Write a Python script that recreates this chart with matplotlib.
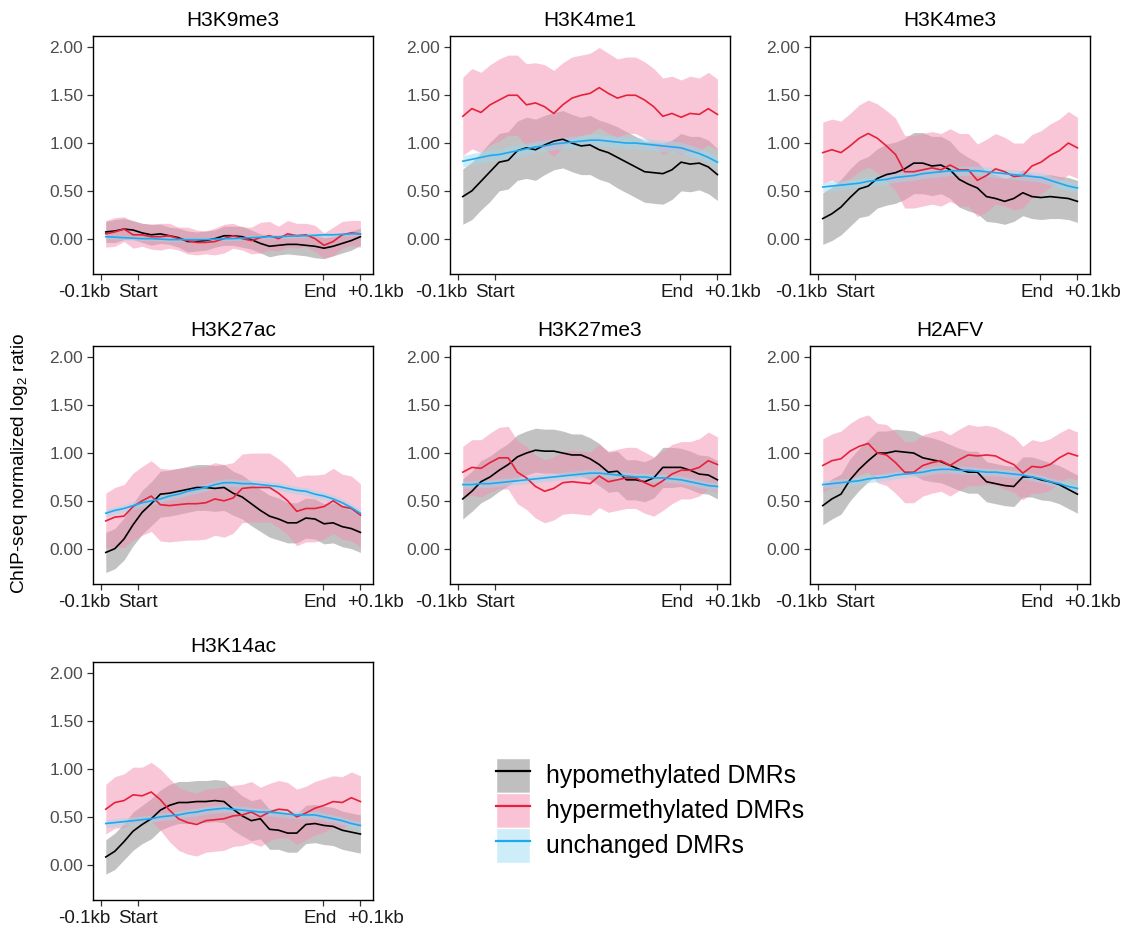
import numpy as np
import matplotlib
matplotlib.use("Agg")
import matplotlib.pyplot as plt
import matplotlib.transforms as mtransforms
from matplotlib.patches import Patch
from matplotlib.lines import Line2D

plt.rcParams['font.family'] = ['Liberation Sans', 'DejaVu Sans']
plt.rcParams['mathtext.fontset'] = 'custom'
plt.rcParams['mathtext.rm'] = 'Liberation Sans'
plt.rcParams['mathtext.it'] = 'Liberation Sans:italic'

# ---------------- data ----------------
PANELS = ["H3K9me3", "H3K4me1", "H3K4me3", "H3K27ac", "H3K27me3", "H2AFV", "H3K14ac"]
XTICK_POS = [0, 10, 60, 70]
XTICK_LABELS = ["-0.1kb", "Start", "End", "+0.1kb"]
YTICKS = [0.0, 0.5, 1.0, 1.5, 2.0]
GROUPS = ["hypomethylated DMRs", "hypermethylated DMRs", "unchanged DMRs"]

H3K9me3_hypo = [0.07,0.08,0.10,0.09,0.06,0.04,0.05,0.03,0.01,-0.03,-0.03,-0.02,0.00,0.03,0.03,0.02,-0.01,-0.05,-0.08,-0.07,-0.06,-0.06,-0.07,-0.08,-0.10,-0.08,-0.05,-0.02,0.02]
H3K9me3_hypo_se = [0.11,0.12,0.11,0.10,0.10,0.11,0.10,0.09,0.10,0.11,0.10,0.10,0.09,0.10,0.10,0.11,0.10,0.10,0.11,0.10,0.10,0.11,0.11,0.12,0.11,0.10,0.10,0.10,0.09]
H3K9me3_hyper = [0.05,0.07,0.10,0.04,0.04,0.02,0.02,0.03,0.00,-0.02,-0.04,-0.04,-0.03,0.00,0.03,0.00,-0.02,0.01,0.03,0.00,0.05,0.03,0.04,0.00,-0.07,-0.03,0.04,0.06,0.05]
H3K9me3_hyper_se = [0.14,0.15,0.13,0.14,0.12,0.13,0.14,0.13,0.12,0.14,0.13,0.12,0.14,0.15,0.13,0.12,0.14,0.16,0.15,0.13,0.14,0.13,0.12,0.14,0.13,0.15,0.14,0.13,0.14]
H3K9me3_unch = [0.02,0.015,0.01,0.005,0.0,0.0,-0.005,-0.01,-0.01,-0.01,-0.01,-0.01,-0.005,0.0,0.0,0.005,0.01,0.015,0.02,0.02,0.025,0.03,0.03,0.035,0.04,0.04,0.045,0.05,0.05]

H3K4me1_hypo = [0.44,0.50,0.60,0.70,0.80,0.82,0.92,0.95,0.93,0.98,1.02,1.04,1.00,0.97,0.98,0.93,0.90,0.85,0.80,0.75,0.70,0.69,0.68,0.72,0.80,0.78,0.79,0.75,0.67]
H3K4me1_hypo_se = [0.29,0.30,0.30,0.31,0.30,0.30,0.31,0.32,0.32,0.31,0.30,0.30,0.30,0.30,0.31,0.31,0.31,0.32,0.32,0.32,0.32,0.32,0.32,0.31,0.30,0.29,0.28,0.28,0.27]
H3K4me1_hyper = [1.28,1.36,1.32,1.40,1.45,1.50,1.50,1.40,1.42,1.38,1.31,1.40,1.47,1.50,1.52,1.58,1.52,1.47,1.50,1.50,1.45,1.38,1.28,1.31,1.27,1.31,1.30,1.36,1.30]
H3K4me1_hyper_se = [0.41,0.42,0.42,0.42,0.43,0.42,0.42,0.43,0.42,0.44,0.45,0.44,0.43,0.42,0.42,0.42,0.42,0.41,0.40,0.40,0.40,0.40,0.40,0.39,0.39,0.39,0.38,0.38,0.37]
H3K4me1_unch = [0.81,0.83,0.85,0.87,0.88,0.90,0.92,0.94,0.96,0.97,0.99,1.00,1.01,1.02,1.03,1.03,1.02,1.01,1.00,1.00,0.99,0.98,0.97,0.96,0.95,0.92,0.89,0.85,0.80]

H3K4me3_hypo = [0.21,0.26,0.33,0.43,0.52,0.55,0.63,0.67,0.69,0.73,0.79,0.79,0.76,0.77,0.72,0.62,0.57,0.53,0.44,0.42,0.39,0.42,0.48,0.44,0.43,0.44,0.43,0.42,0.39]
H3K4me3_hypo_se = [0.27,0.28,0.29,0.30,0.30,0.31,0.31,0.32,0.32,0.32,0.32,0.32,0.31,0.30,0.30,0.29,0.28,0.27,0.26,0.25,0.24,0.24,0.24,0.23,0.23,0.23,0.22,0.22,0.22]
H3K4me3_hyper = [0.90,0.93,0.90,0.97,1.05,1.10,1.05,0.97,0.88,0.70,0.70,0.72,0.74,0.72,0.77,0.72,0.72,0.61,0.66,0.73,0.70,0.65,0.66,0.76,0.80,0.87,0.92,1.00,0.95]
H3K4me3_hyper_se = [0.32,0.32,0.33,0.34,0.35,0.35,0.36,0.37,0.38,0.38,0.38,0.38,0.38,0.38,0.38,0.38,0.38,0.38,0.38,0.37,0.36,0.35,0.34,0.33,0.33,0.33,0.33,0.33,0.32]
H3K4me3_unch = [0.54,0.55,0.56,0.57,0.58,0.60,0.61,0.62,0.64,0.65,0.66,0.68,0.69,0.70,0.71,0.71,0.71,0.71,0.70,0.69,0.68,0.67,0.66,0.65,0.64,0.61,0.58,0.55,0.53]

H3K27ac_hypo = [-0.04,0.00,0.10,0.25,0.38,0.47,0.57,0.58,0.60,0.62,0.64,0.64,0.63,0.64,0.58,0.54,0.47,0.40,0.34,0.31,0.27,0.27,0.32,0.31,0.26,0.27,0.23,0.21,0.17]
H3K27ac_hypo_se = [0.21,0.21,0.22,0.22,0.23,0.23,0.24,0.24,0.24,0.24,0.24,0.24,0.24,0.24,0.23,0.23,0.23,0.22,0.22,0.22,0.21,0.21,0.21,0.21,0.21,0.21,0.21,0.21,0.21]
H3K27ac_hyper = [0.29,0.33,0.34,0.44,0.50,0.55,0.46,0.45,0.46,0.47,0.47,0.48,0.52,0.50,0.53,0.63,0.64,0.64,0.64,0.58,0.50,0.39,0.42,0.42,0.44,0.50,0.44,0.42,0.35]
H3K27ac_hyper_se = [0.29,0.31,0.33,0.35,0.36,0.37,0.38,0.38,0.38,0.38,0.38,0.38,0.38,0.38,0.37,0.36,0.36,0.36,0.36,0.36,0.36,0.36,0.35,0.35,0.34,0.34,0.34,0.34,0.33]
H3K27ac_unch = [0.37,0.40,0.42,0.45,0.48,0.50,0.52,0.55,0.57,0.60,0.62,0.64,0.67,0.69,0.69,0.68,0.68,0.67,0.66,0.65,0.63,0.61,0.60,0.57,0.55,0.52,0.48,0.43,0.37]

H3K27me3_hypo = [0.52,0.60,0.70,0.75,0.82,0.88,0.96,1.00,1.03,1.02,1.02,1.00,0.98,0.98,0.94,0.88,0.80,0.81,0.72,0.72,0.70,0.74,0.85,0.85,0.85,0.82,0.78,0.77,0.72]
H3K27me3_hypo_se = [0.21,0.21,0.22,0.22,0.22,0.22,0.23,0.23,0.23,0.23,0.23,0.23,0.22,0.22,0.22,0.22,0.21,0.21,0.21,0.21,0.21,0.21,0.21,0.21,0.20,0.20,0.20,0.20,0.20]
H3K27me3_hyper = [0.80,0.85,0.84,0.90,0.95,0.95,0.80,0.74,0.65,0.60,0.63,0.69,0.70,0.69,0.68,0.76,0.70,0.72,0.74,0.74,0.69,0.65,0.71,0.78,0.82,0.82,0.85,0.92,0.88]
H3K27me3_hyper_se = [0.27,0.29,0.30,0.31,0.32,0.33,0.33,0.33,0.33,0.33,0.33,0.33,0.33,0.33,0.33,0.33,0.32,0.32,0.32,0.32,0.32,0.31,0.31,0.31,0.30,0.30,0.30,0.30,0.29]
H3K27me3_unch = [0.67,0.67,0.68,0.68,0.69,0.70,0.71,0.72,0.73,0.74,0.75,0.76,0.77,0.78,0.79,0.79,0.78,0.77,0.76,0.75,0.75,0.74,0.74,0.73,0.72,0.70,0.68,0.66,0.65]

H2AFV_hypo = [0.45,0.52,0.57,0.72,0.83,0.92,1.00,1.00,1.02,1.01,1.00,0.95,0.93,0.91,0.87,0.83,0.80,0.80,0.70,0.68,0.66,0.65,0.75,0.75,0.72,0.70,0.67,0.62,0.57]
H2AFV_hypo_se = [0.20,0.21,0.21,0.22,0.22,0.22,0.23,0.23,0.23,0.23,0.23,0.23,0.23,0.22,0.22,0.22,0.22,0.22,0.21,0.21,0.21,0.21,0.21,0.21,0.21,0.20,0.20,0.20,0.20]
H2AFV_hyper = [0.87,0.92,0.94,1.02,1.07,1.10,1.00,0.98,0.90,0.80,0.80,0.87,0.90,0.92,0.87,0.93,0.98,0.97,0.98,0.97,0.92,0.88,0.79,0.86,0.85,0.88,0.95,1.00,0.97]
H2AFV_hyper_se = [0.28,0.28,0.29,0.29,0.30,0.30,0.31,0.32,0.32,0.32,0.32,0.32,0.32,0.32,0.32,0.32,0.32,0.31,0.31,0.30,0.30,0.29,0.28,0.28,0.27,0.27,0.26,0.26,0.25]
H2AFV_unch = [0.67,0.68,0.69,0.70,0.71,0.73,0.74,0.75,0.77,0.78,0.79,0.80,0.82,0.83,0.83,0.82,0.82,0.81,0.80,0.80,0.79,0.78,0.77,0.75,0.73,0.70,0.68,0.65,0.63]

H3K14ac_hypo = [0.08,0.14,0.24,0.35,0.42,0.48,0.57,0.62,0.65,0.65,0.66,0.66,0.67,0.66,0.58,0.51,0.46,0.48,0.37,0.36,0.33,0.33,0.42,0.43,0.41,0.40,0.36,0.34,0.32]
H3K14ac_hypo_se = [0.18,0.19,0.19,0.20,0.20,0.21,0.21,0.22,0.22,0.22,0.22,0.22,0.22,0.22,0.22,0.21,0.21,0.21,0.21,0.20,0.20,0.20,0.20,0.20,0.20,0.20,0.20,0.20,0.20]
H3K14ac_hyper = [0.58,0.65,0.67,0.73,0.72,0.76,0.68,0.57,0.48,0.44,0.42,0.46,0.47,0.48,0.51,0.52,0.55,0.50,0.55,0.58,0.57,0.50,0.54,0.59,0.62,0.66,0.65,0.70,0.66]
H3K14ac_hyper_se = [0.26,0.27,0.28,0.29,0.30,0.31,0.32,0.33,0.33,0.33,0.33,0.33,0.33,0.33,0.32,0.32,0.32,0.31,0.30,0.30,0.29,0.29,0.28,0.28,0.28,0.27,0.27,0.27,0.27]
H3K14ac_unch = [0.43,0.44,0.45,0.46,0.47,0.48,0.50,0.51,0.52,0.54,0.55,0.57,0.58,0.59,0.58,0.57,0.56,0.55,0.55,0.54,0.53,0.52,0.52,0.52,0.50,0.48,0.46,0.43,0.41]

UNCH_SE = [0.02, 0.06, 0.05, 0.04, 0.04, 0.04, 0.04]

# ---------------- assemble ----------------
series = {
    "H3K9me3": (H3K9me3_hypo, H3K9me3_hypo_se, H3K9me3_hyper, H3K9me3_hyper_se, H3K9me3_unch),
    "H3K4me1": (H3K4me1_hypo, H3K4me1_hypo_se, H3K4me1_hyper, H3K4me1_hyper_se, H3K4me1_unch),
    "H3K4me3": (H3K4me3_hypo, H3K4me3_hypo_se, H3K4me3_hyper, H3K4me3_hyper_se, H3K4me3_unch),
    "H3K27ac": (H3K27ac_hypo, H3K27ac_hypo_se, H3K27ac_hyper, H3K27ac_hyper_se, H3K27ac_unch),
    "H3K27me3": (H3K27me3_hypo, H3K27me3_hypo_se, H3K27me3_hyper, H3K27me3_hyper_se, H3K27me3_unch),
    "H2AFV": (H2AFV_hypo, H2AFV_hypo_se, H2AFV_hyper, H2AFV_hyper_se, H2AFV_unch),
    "H3K14ac": (H3K14ac_hypo, H3K14ac_hypo_se, H3K14ac_hyper, H3K14ac_hyper_se, H3K14ac_unch),
}

X = np.linspace(1.25, 70, 29)

LINE_COLORS = ["#000000", "#E8203A", "#1EA8F0"]
FILL_COLORS = ["#9A9A9A", "#F48FB1", "#9ED8EE"]
FILL_ALPHA = [0.6, 0.5, 0.5]

W, H = 1128, 930
fig = plt.figure(figsize=(W / 100, H / 100), dpi=100)

col_left = [93, 450, 810]
row_top = [36, 346, 662]
aw, ah = 280, 238

for k, name in enumerate(PANELS):
    r, c = divmod(k, 3)
    ax = fig.add_axes([col_left[c] / W, (H - row_top[r] - ah) / H, aw / W, ah / H])
    hypo, hypo_se, hyper, hyper_se, unch = [np.asarray(a) for a in series[name]]
    use = UNCH_SE[k]
    means = [hypo, hyper, unch]
    errs = [hypo_se, hyper_se, np.full_like(unch, use)]
    for g in range(3):
        ax.fill_between(X, means[g] - errs[g], means[g] + errs[g],
                        color=FILL_COLORS[g], alpha=FILL_ALPHA[g], lw=0)
    for g in range(3):
        ax.plot(X, means[g], color=LINE_COLORS[g], lw=1.2)
    ax.set_xlim(-2.2, 73.4)
    ax.set_ylim(-0.37, 2.12)
    ax.set_yticks(YTICKS)
    ax.set_yticklabels([f"{v:.2f}" for v in YTICKS])
    ax.set_xticks(XTICK_POS)
    ax.set_xticklabels([])
    ax.tick_params(axis='both', direction='out', length=4, width=0.9,
                   color='#333333', labelcolor='#4D4D4D', labelsize=12.5, pad=3)
    for sp in ax.spines.values():
        sp.set_linewidth(1.0)
        sp.set_color('black')
    ax.set_title(name, fontsize=15, pad=7, color='black')
    offsets_px = [-17, 0, -3, 15.5]
    blend = mtransforms.blended_transform_factory(ax.transData, ax.transAxes)
    for pos, lab, dx in zip(XTICK_POS, XTICK_LABELS, offsets_px):
        tr = blend + mtransforms.ScaledTranslation(dx / 100, -10 / 100, fig.dpi_scale_trans)
        ax.text(pos, 0, lab, transform=tr, ha='center', va='top',
                fontsize=13.5, color='#1A1A1A')

fig.text(20 / W, 1 - 463 / H, "ChIP-seq normalized log$_2$ ratio", rotation=90,
         ha='center', va='center', fontsize=13.8, color='black')

handles = []
legend_fill = ["#BFBFBF", "#F9C3D5", "#CDEEF8"]
for g in range(3):
    handles.append((Patch(facecolor=legend_fill[g], edgecolor='white', lw=1),
                    Line2D([], [], color=LINE_COLORS[g], lw=1.6)))
fig.legend(handles, GROUPS, loc='upper left',
           bbox_to_anchor=(496 / W, 1 - 758 / H), frameon=False,
           fontsize=17.8, handlelength=1.38, handleheight=1.8,
           labelspacing=0.0, handletextpad=0.65, borderpad=0, borderaxespad=0)

fig.savefig("out.png", dpi=100)
